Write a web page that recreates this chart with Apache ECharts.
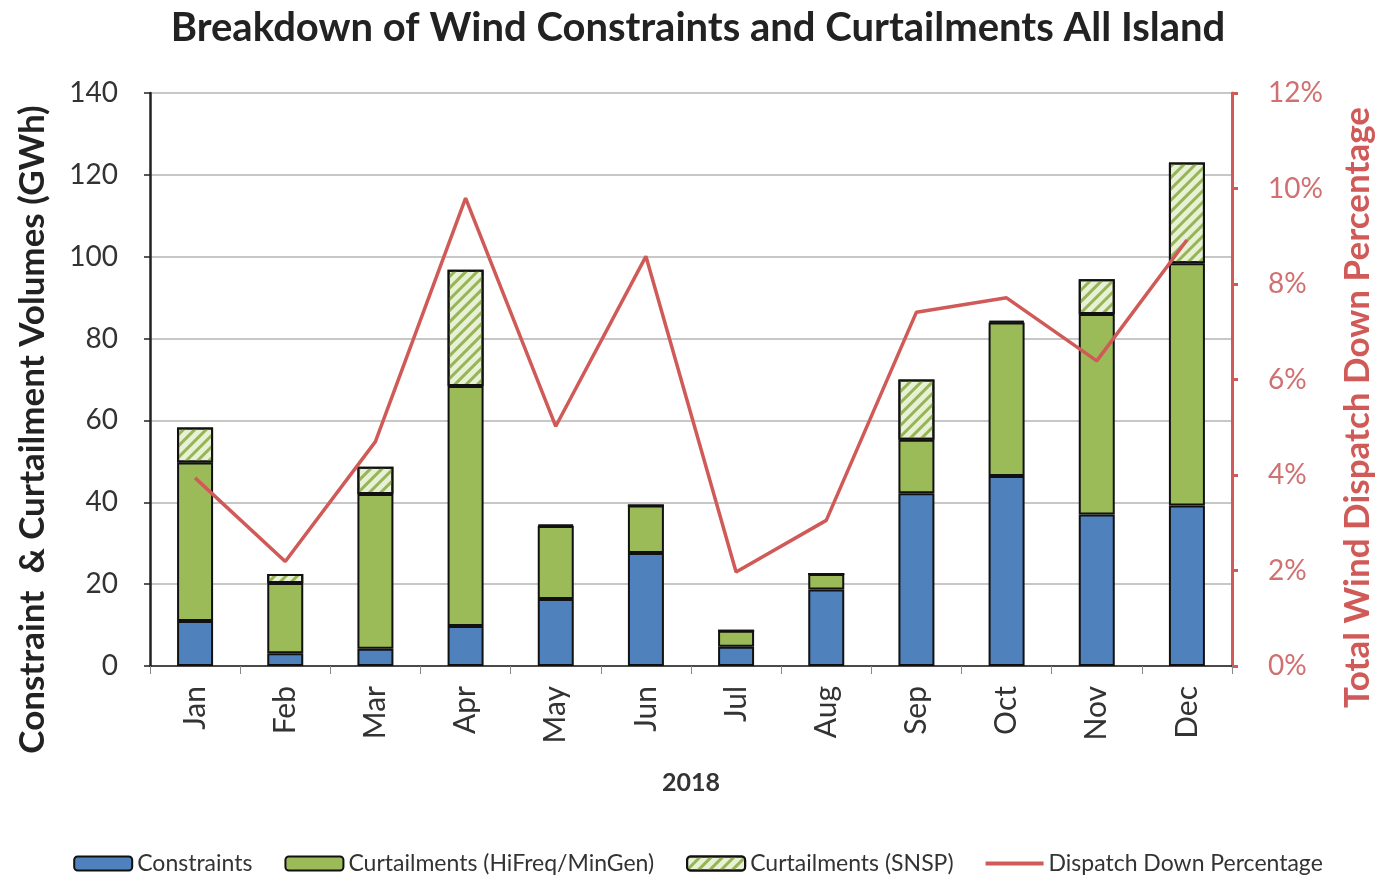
<!DOCTYPE html>
<html><head><meta charset="utf-8">
<script src="https://cdn.jsdelivr.net/npm/echarts@6/dist/echarts.min.js"></script>
<style>html,body{margin:0;padding:0;background:#fff}#c{width:1396px;height:880px}</style>
</head><body><div id="c"></div>
<script>
const months = ['Jan','Feb','Mar','Apr','May','Jun','Jul','Aug','Sep','Oct','Nov','Dec'];
const constraints = [11.0, 3.1, 4.2, 9.8, 16.4, 27.6, 4.7, 18.7, 42.2, 46.4, 37.0, 39.2];
const curtHiFreq = [38.7, 17.2, 37.8, 58.6, 17.8, 11.6, 3.9, 3.8, 13.1, 37.5, 49.0, 59.2];
const curtSNSP = [8.6, 2.2, 6.7, 28.4, 0.3, 0, 0, 0, 14.7, 0.4, 8.5, 24.6];
const dispatchPct = [3.94, 2.19, 4.7, 9.8, 5.02, 8.58, 1.97, 3.05, 7.41, 7.71, 6.39, 8.92];
const leftTicks = {min: 0, max: 140, interval: 20};
const rightTicks = {min: 0, max: 12, interval: 2};

const FONT = 'Lato, "Open Sans", sans-serif';
const RED = '#d05a57';
const chart = echarts.init(document.getElementById('c'), null, {renderer: 'canvas'});
chart.setOption({
  animation: false,
  textStyle: {fontFamily: FONT},
  title: {
    text: 'Breakdown of Wind Constraints and Curtailments All Island',
    left: 'center', top: 3,
    textStyle: {fontFamily: FONT, fontWeight: 'bold', fontSize: 40, color: '#222'}
  },
  legend: {
    bottom: 0, left: 'center', itemWidth: 58, itemHeight: 14, itemGap: 32,
    textStyle: {fontFamily: FONT, fontSize: 23, color: '#333'},
    data: ['Constraints','Curtailments (HiFreq/MinGen)','Curtailments (SNSP)',
      {name: 'Dispatch Down Percentage', icon: 'path://M0,0 L58,0 L58,4 L0,4 Z'}]
  },
  grid: {left: 150, right: 164, top: 93, bottom: 214},
  xAxis: {
    type: 'category', data: months,
    name: '2018', nameLocation: 'middle', nameGap: 104,
    nameTextStyle: {fontFamily: FONT, fontWeight: 'bold', fontSize: 25, color: '#333'},
    axisLine: {lineStyle: {color: '#222', width: 1.5}},
    axisTick: {show: true, length: 8, lineStyle: {color: '#888'}},
    axisLabel: {rotate: 90, fontSize: 30, color: '#333', margin: 20, fontFamily: FONT}
  },
  yAxis: [{
    type: 'value', min: leftTicks.min, max: leftTicks.max, interval: leftTicks.interval,
    name: 'Constraint  & Curtailment Volumes (GWh)', nameLocation: 'middle', nameGap: 100, nameRotate: 90,
    nameTextStyle: {fontFamily: FONT, fontWeight: 'bold', fontSize: 35, color: '#222', padding: [0, 100, 0, 0]},
    axisLine: {show: true, lineStyle: {color: '#222', width: 2.5}},
    axisTick: {show: true, length: 6, lineStyle: {color: '#222', width: 1.5}},
    axisLabel: {fontSize: 28, color: '#333', margin: 32, fontFamily: FONT},
    splitLine: {lineStyle: {color: '#b5b5b5', width: 1.5}}
  }, {
    type: 'value', min: rightTicks.min, max: rightTicks.max, interval: rightTicks.interval,
    position: 'right',
    name: 'Total Wind Dispatch Down Percentage', nameLocation: 'middle', nameGap: 108, nameRotate: 90,
    nameTextStyle: {fontFamily: FONT, fontWeight: 'bold', fontSize: 35, color: RED, padding: [0, 56, 0, 0]},
    axisLine: {show: true, lineStyle: {color: RED, width: 3}},
    axisTick: {show: true, length: 6, lineStyle: {color: RED, width: 3}},
    axisLabel: {fontSize: 28, color: '#d07070', margin: 36, fontFamily: FONT, formatter: '{value}%'},
    splitLine: {show: false}
  }],
  series: [{
    name: 'Constraints', type: 'bar', stack: 'v', barWidth: 36, data: constraints,
    itemStyle: {color: '#4f81bd', borderColor: '#111', borderWidth: 2}
  }, {
    name: 'Curtailments (HiFreq/MinGen)', type: 'bar', stack: 'v', data: curtHiFreq,
    itemStyle: {color: '#9bbb59', borderColor: '#111', borderWidth: 2}
  }, {
    name: 'Curtailments (SNSP)', type: 'bar', stack: 'v', data: curtSNSP,
    itemStyle: {color: '#e8f0d6', borderColor: '#111', borderWidth: 2,
      decal: {symbol: 'rect', symbolSize: 1, rotation: -Math.PI / 4, dashArrayX: [1, 0], dashArrayY: [3, 5], color: '#95b556'}}
  }, {
    name: 'Dispatch Down Percentage', type: 'line', yAxisIndex: 1, data: dispatchPct,
    symbol: 'none', lineStyle: {color: RED, width: 3.5}, itemStyle: {color: RED}
  }]
});
</script></body></html>
